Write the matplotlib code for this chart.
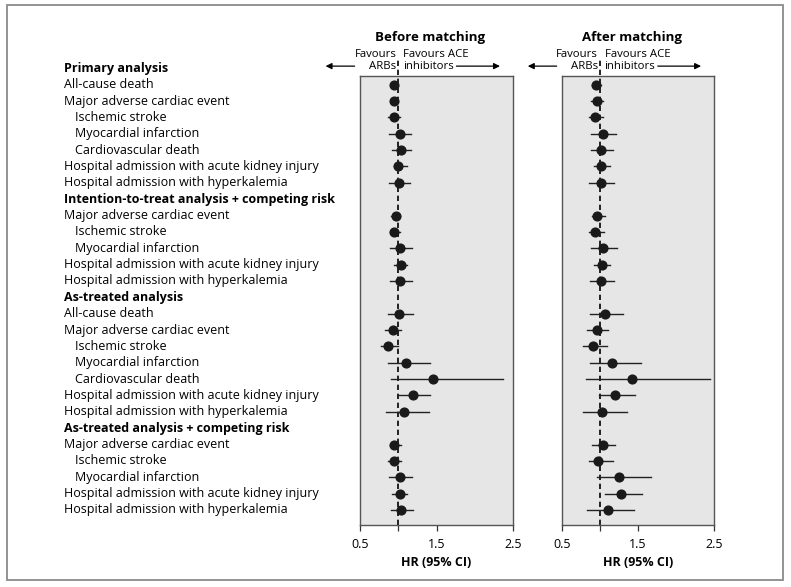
import matplotlib
matplotlib.use('Agg')
import matplotlib.pyplot as plt
from matplotlib import transforms
from matplotlib.patches import Rectangle

plt.rcParams['font.family'] = ['Open Sans', 'DejaVu Sans']

# row labels: (text, kind) kind: h = header, 0 = normal, 1 = indented
labels = [
    ('Primary analysis', 'h'),
    ('All-cause death', 0),
    ('Major adverse cardiac event', 0),
    ('Ischemic stroke', 1),
    ('Myocardial infarction', 1),
    ('Cardiovascular death', 1),
    ('Hospital admission with acute kidney injury', 0),
    ('Hospital admission with hyperkalemia', 0),
    ('Intention-to-treat analysis + competing risk', 'h'),
    ('Major adverse cardiac event', 0),
    ('Ischemic stroke', 1),
    ('Myocardial infarction', 1),
    ('Hospital admission with acute kidney injury', 0),
    ('Hospital admission with hyperkalemia', 0),
    ('As-treated analysis', 'h'),
    ('All-cause death', 0),
    ('Major adverse cardiac event', 0),
    ('Ischemic stroke', 1),
    ('Myocardial infarction', 1),
    ('Cardiovascular death', 1),
    ('Hospital admission with acute kidney injury', 0),
    ('Hospital admission with hyperkalemia', 0),
    ('As-treated analysis + competing risk', 'h'),
    ('Major adverse cardiac event', 0),
    ('Ischemic stroke', 1),
    ('Myocardial infarction', 1),
    ('Hospital admission with acute kidney injury', 0),
    ('Hospital admission with hyperkalemia', 0),
]

# before matching (None for header rows)
before_hr = [None, 0.95, 0.95, 0.95, 1.02, 1.04, 1.00, 1.01,
             None, 0.97, 0.95, 1.02, 1.03, 1.02,
             None, 1.01, 0.93, 0.87, 1.10, 1.46, 1.19, 1.08,
             None, 0.95, 0.95, 1.02, 1.02, 1.04]
before_lo = [None, 0.91, 0.91, 0.87, 0.88, 0.92, 0.94, 0.88,
             None, 0.90, 0.89, 0.89, 0.94, 0.89,
             None, 0.86, 0.83, 0.77, 0.87, 0.91, 1.00, 0.84,
             None, 0.89, 0.87, 0.88, 0.92, 0.91]
before_hi = [None, 0.99, 0.99, 1.02, 1.17, 1.17, 1.12, 1.15,
             None, 1.02, 1.02, 1.18, 1.12, 1.18,
             None, 1.19, 1.04, 1.00, 1.41, 2.37, 1.42, 1.40,
             None, 1.03, 1.04, 1.18, 1.12, 1.19]

# after matching
after_hr = [None, 0.95, 0.96, 0.94, 1.04, 1.01, 1.01, 1.01,
            None, 0.96, 0.94, 1.04, 1.02, 1.01,
            None, 1.07, 0.96, 0.91, 1.16, 1.42, 1.20, 1.03,
            None, 1.04, 0.98, 1.25, 1.28, 1.10]
after_lo = [None, 0.89, 0.88, 0.86, 0.88, 0.88, 0.92, 0.86,
            None, 0.89, 0.86, 0.88, 0.92, 0.87,
            None, 0.87, 0.83, 0.78, 0.87, 0.82, 0.99, 0.78,
            None, 0.89, 0.85, 0.96, 1.06, 0.83]
after_hi = [None, 1.01, 1.04, 1.04, 1.21, 1.17, 1.13, 1.18,
            None, 1.06, 1.05, 1.22, 1.13, 1.18,
            None, 1.30, 1.11, 1.09, 1.54, 2.45, 1.46, 1.36,
            None, 1.20, 1.17, 1.67, 1.55, 1.45]

titles = ['Before matching', 'After matching']
xticks = [0.5, 1.0, 1.5, 2.5]
xticklabels = ['0.5', '', '1.5', '2.5']

W, H = 791, 587
fig = plt.figure(figsize=(W / 100, H / 100), dpi=100)

# outer frame
fig.patches.append(Rectangle((7 / W, 7 / H), 776 / W, 575 / H, transform=fig.transFigure,
                             fill=False, edgecolor='#8a8a8a', linewidth=1.3))

n = len(labels)
ax_b = fig.add_axes([360 / W, 62 / H, 153 / W, 449 / H])
ax_a = fig.add_axes([562 / W, 62 / H, 152 / W, 449 / H])

panels = [(ax_b, before_hr, before_lo, before_hi), (ax_a, after_hr, after_lo, after_hi)]
for k, (ax, hr, lo, hi) in enumerate(panels):
    ax.set_facecolor('#e6e6e6')
    ax.set_xlim(0.5, 2.5)
    ax.set_ylim(n - 1 + 0.92, 0.47)
    for sp in ax.spines.values():
        sp.set_color('#555555')
        sp.set_linewidth(1.0)
    ax.set_yticks([])
    ax.set_xticks(xticks)
    ax.set_xticklabels(xticklabels, fontsize=9)
    ax.tick_params(axis='x', length=4, width=0.9, color='#333333', pad=5)
    ax.set_xlabel('HR (95% CI)', fontsize=9, fontweight='bold', labelpad=4)

    ax.axvline(1.0, ymin=0, ymax=1.04, color='black', lw=1.2, ls=(0, (3.2, 2.2)),
               clip_on=False, zorder=2)

    for i in range(n):
        if hr[i] is None:
            continue
        ax.plot([lo[i], hi[i]], [i, i], color='#222222', lw=1.0, zorder=3)
        ax.plot(hr[i], i, 'o', color='#1a1a1a', markersize=6.3, zorder=4)

    tr = transforms.blended_transform_factory(ax.transData, ax.transAxes)
    ax.text(1.42, 1.085, titles[k], transform=tr, ha='center', va='center',
            fontsize=9.5, fontweight='bold')
    ax.text(0.975, 1.035, 'Favours\nARBs', transform=tr, ha='right', va='center',
            fontsize=8.2, linespacing=1.15)
    ax.text(1.06, 1.035, 'Favours ACE\ninhibitors', transform=tr, ha='left', va='center',
            fontsize=8.2, linespacing=1.15)
    ax.annotate('', xy=(0.05, 1.022), xytext=(0.43, 1.022), xycoords=tr, textcoords=tr,
                arrowprops=dict(arrowstyle='-|>', color='black', lw=0.9,
                                mutation_scale=9, shrinkA=0, shrinkB=0))
    ax.annotate('', xy=(2.33, 1.022), xytext=(1.76, 1.022), xycoords=tr, textcoords=tr,
                arrowprops=dict(arrowstyle='-|>', color='black', lw=0.9,
                                mutation_scale=9, shrinkA=0, shrinkB=0))

# row labels on the left
tl = transforms.blended_transform_factory(fig.transFigure, ax_b.transData)
for i, (txt, kind) in enumerate(labels):
    if kind == 'h':
        fig.text(64 / W, i, txt, transform=tl, fontsize=9, fontweight='bold', va='center')
    else:
        x = 64 if kind == 0 else 75
        fig.text(x / W, i, txt, transform=tl, fontsize=9, va='center')

fig.savefig('out.png', dpi=100)
